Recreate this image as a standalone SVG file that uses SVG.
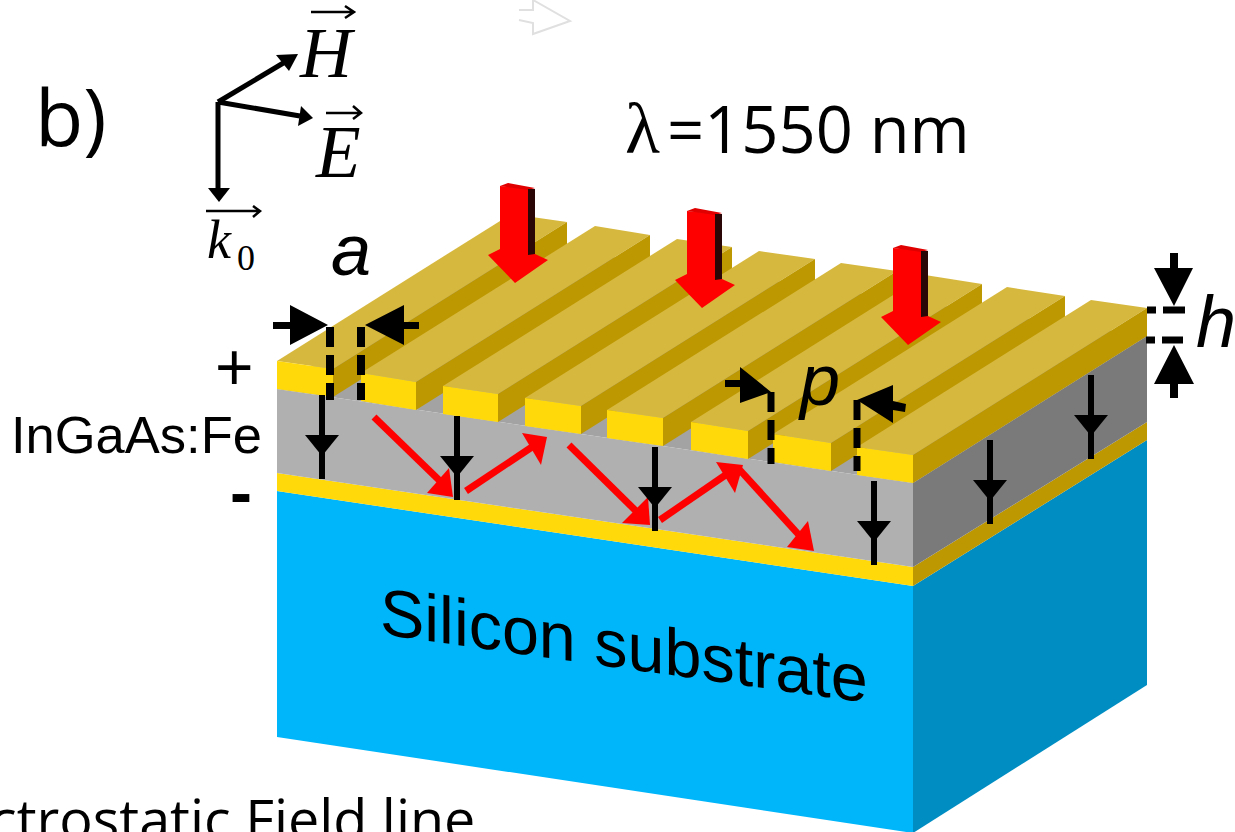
<svg xmlns="http://www.w3.org/2000/svg" width="1235" height="832" viewBox="0 0 1235 832">
<style>
.t{fill:#d7b83f}.s{fill:#bd9800}.f{fill:#ffd90a}
.bl{stroke:#000;stroke-width:6;fill:none}
.d{stroke:#000;stroke-width:8;fill:none;stroke-dasharray:20 8}
.rl{stroke:#f00;stroke-width:7;fill:none}
.ax{stroke:#000;stroke-width:5;fill:none}
.vec{stroke:#000;stroke-width:2.5;fill:none}
.sans{font-family:"Liberation Sans",Arial,sans-serif;fill:#000}
.open{font-family:"Open Sans","Noto Sans",sans-serif;fill:#000}
.math{font-family:"Liberation Serif","Times New Roman",serif;font-style:italic;fill:#000}
.it{font-family:"Liberation Sans",Arial,sans-serif;font-style:italic;fill:#000}
</style>
<defs>
<g id="field"><path class="bl" d="M0 0V84"/><path d="M-17 40H17L0 61Z" fill="#000"/></g>
<g id="bigred">
<path d="M12 -69L47 -66V4H12Z" fill="#f00"/>
<path d="M12 -69L20 -72L47 -67L40 -65Z" fill="#e00000"/>
<path d="M40 -66H47V0H40Z" fill="#2a0606"/>
<path d="M0 0L12 -6V4H40V0L47 -1L60 5L27 28Z" fill="#f00"/>
</g>
</defs>
<g id="substrate">
<polygon points="277,491 913,586 913,833 277,737" fill="#00b6fb"/>
<polygon points="913,586 1147,440 1147,685 913,833" fill="#008dc2"/>
<text class="sans" transform="matrix(1,0.141,0,1,380,634)" font-size="66.5">Silicon substrate</text>
</g>
<g id="lower-contact">
<polygon points="277,473 913,567 913,586 277,491" fill="#ffd90a"/>
<polygon points="913,567 1147,422 1147,440 913,586" fill="#bd9800"/>
</g>
<g id="ingaas">
<polygon points="277,389 913,483 1147,336 511,242" fill="#a3a3a3"/>
<polygon points="277,389 913,483 913,567 277,473" fill="#b0b0b0"/>
<polygon points="913,483 1147,336 1147,422 913,567" fill="#7a7a7a"/>
</g>
<g id="bar1"><polygon class="t" points="277,361 333,369 567,222 511,214"/><polygon class="s" points="333,369 567,222 567,250 333,397"/><polygon class="f" points="277,361 333,369 333,397 277,389"/></g>
<g id="bar2"><polygon class="t" points="361,373 416,382 650,235 595,226"/><polygon class="s" points="416,382 650,235 650,263 416,410"/><polygon class="f" points="361,373 416,382 416,410 361,401"/></g>
<g id="bar3"><polygon class="t" points="443,386 498,394 732,247 677,239"/><polygon class="s" points="498,394 732,247 732,275 498,422"/><polygon class="f" points="443,386 498,394 498,422 443,414"/></g>
<g id="bar4"><polygon class="t" points="525,398 581,406 815,259 759,251"/><polygon class="s" points="581,406 815,259 815,287 581,434"/><polygon class="f" points="525,398 581,406 581,434 525,426"/></g>
<g id="bar5"><polygon class="t" points="607,410 663,418 897,271 841,263"/><polygon class="s" points="663,418 897,271 897,299 663,446"/><polygon class="f" points="607,410 663,418 663,446 607,438"/></g>
<g id="bar6"><polygon class="t" points="691,422 748,431 982,284 925,275"/><polygon class="s" points="748,431 982,284 982,312 748,459"/><polygon class="f" points="691,422 748,431 748,459 691,450"/></g>
<g id="bar7"><polygon class="t" points="773,434 831,443 1065,296 1007,287"/><polygon class="s" points="831,443 1065,296 1065,324 831,471"/><polygon class="f" points="773,434 831,443 831,471 773,462"/></g>
<g id="bar8"><polygon class="t" points="857,447 913,455 1147,308 1091,300"/><polygon class="s" points="913,455 1147,308 1147,336 913,483"/><polygon class="f" points="857,447 913,455 913,483 857,475"/></g>
<g id="connectors">
<g id="incident">
<use href="#bigred" x="488" y="255"/>
<use href="#bigred" x="675" y="280"/>
<use href="#bigred" x="881" y="317"/>
</g>
<g id="guided">
<path class="rl" d="M374 417L440 481"/><polygon points="453,497 427,493 449,468" fill="#f00"/>
<path class="rl" d="M466 491L532 447"/><polygon points="547,437 522,433 541,465" fill="#f00"/>
<path class="rl" d="M569 445L636 511"/><polygon points="650,525 622,523 648,497" fill="#f00"/>
<path class="rl" d="M660 520L727 474"/><polygon points="743,465 716,462 735,493" fill="#f00"/>
<path class="rl" d="M738 468L799 535"/><polygon points="814,551 787,547 808,521" fill="#f00"/>
</g>
<g id="field-lines">
<use href="#field" x="322" y="395"/>
<use href="#field" x="457" y="416"/>
<use href="#field" x="655" y="447"/>
<use href="#field" x="874" y="481"/>
<use href="#field" x="990" y="440"/>
<use href="#field" x="1091" y="375"/>
</g>
<g id="dim-a">
<path class="d" d="M330 327V400"/><path class="d" d="M361 327V400"/>
<path d="M273 322H290V305L328 325L290 345V329H273Z" fill="#000"/>
<path d="M419 322H404V305L365 325L404 345V329H419Z" fill="#000"/>
</g>
<g id="dim-p">
<path class="d" style="stroke-width:7" d="M771 392V464"/><path class="d" style="stroke-width:7" d="M857 400V471"/>
<path d="M725 380H740V367L771 392L740 403V387H725Z" fill="#000"/>
<path d="M906 404L893 401V385L857 400L893 423V410L905 412Z" fill="#000"/>
</g>
<g id="dim-h">
<path class="d" style="stroke-dasharray:9 7 30 0;stroke-width:7" d="M1147 310H1185"/>
<path class="d" style="stroke-dasharray:9 7 30 0;stroke-width:7" d="M1146 340H1183"/>
<path d="M1170 253H1178V268H1193L1174 306L1154 268H1170Z" fill="#000"/>
<path d="M1170 398H1178V384H1194L1174 345L1154 384H1170Z" fill="#000"/>
</g>
<g id="axes">
<path class="ax" d="M218 102L285 62"/><polygon points="298,54 276,55 289,71" fill="#000"/>
<path class="ax" d="M218 102L300 116"/><polygon points="313,118 301,106 298,126" fill="#000"/>
<path class="ax" d="M218 102V190"/><polygon points="219,202 208,188 230,188" fill="#000"/>
</g>
</g>
<g id="labels">
<text class="open" x="35" y="146" font-size="79">b)</text>
<text class="open" y="153" font-size="65"><tspan x="625" font-family="Liberation Serif" font-size="72">λ</tspan><tspan x="667">=1550 nm</tspan></text>
<text class="sans" x="11" y="453" font-size="52.5">InGaAs:Fe</text>
<text class="sans" x="215" y="390" font-size="66">+</text>
<text class="sans" x="230" y="515" font-size="66" font-weight="700">-</text>
<text class="it" x="331" y="275" font-size="72">a</text>
<text class="it" x="800" y="405" font-size="72">p</text>
<text class="it" x="1196" y="347" font-size="72">h</text>
<text class="math" x="300" y="77" font-size="72">H</text>
<path class="vec" d="M311 12H353M345 6L354 12L345 18"/>
<text class="math" x="316" y="177" font-size="73">E</text>
<path class="vec" d="M326 113H360M353 106L361 113L353 119"/>
<text class="math" x="207" y="258" font-size="54">k</text>
<text class="math" x="237" y="270" font-size="36" style="font-style:normal">0</text>
<path class="vec" d="M206 211H260M253 206L260 211L253 217"/>
<text class="open" x="-10" y="839" font-size="55.7">ctrostatic Field line</text>
</g>
<g id="cursor-ghost"><path d="M519 10L533 10V0L570 21L533 34V23L519 20" fill="none" stroke="#e0e0e0" stroke-width="2"/></g>
</svg>
